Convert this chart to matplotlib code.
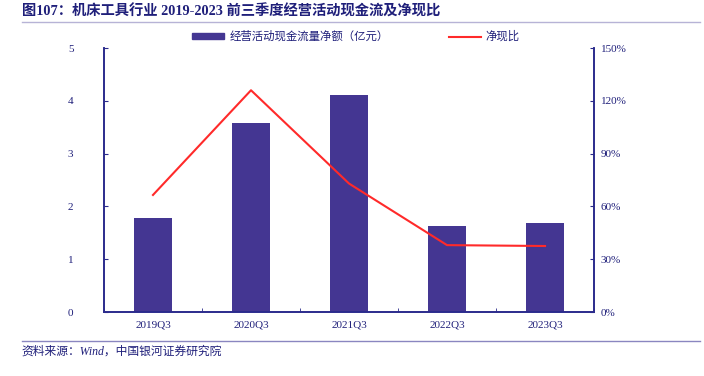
import matplotlib
matplotlib.use("Agg")
import matplotlib.pyplot as plt
from matplotlib.lines import Line2D
from matplotlib.patches import Patch
import numpy as np

plt.rcParams['font.family'] = ['Liberation Serif', 'Noto Sans CJK SC']

# ----- data
quarters = ['2019Q3', '2020Q3', '2021Q3', '2022Q3', '2023Q3']
cash_flow = [1.78, 3.58, 4.11, 1.63, 1.69]      # 亿元
net_ratio = [66.5, 126.0, 73.0, 38.0, 37.5]     # %

bar_color = '#443692'
line_color = '#FF2A2A'
text_color = '#1F1F7A'
axis_color = '#2B2B8C'

fig = plt.figure(figsize=(7.04, 3.76), dpi=100)
ax = fig.add_axes([0.1477, 0.1702, 0.6961, 0.7021])
ax2 = ax.twinx()

x = np.arange(len(quarters))
ax.bar(x, cash_flow, width=0.39, color=bar_color, zorder=2)
ax2.plot(x, net_ratio, color=line_color, lw=1.5, zorder=3)

ax.set_xlim(-0.5, len(quarters) - 0.5)
ax.set_ylim(0, 5)
ax2.set_ylim(0, 150)
ax.set_yticks(range(0, 6))
ax2.set_yticks(range(0, 151, 30))
ax2.set_yticklabels([f'{v}%' for v in range(0, 151, 30)])

# category ticks between bars
ax.set_xticks(x)
ax.set_xticklabels(quarters)
ax.set_xticks(np.arange(-0.5, len(quarters), 1), minor=True)
ax.tick_params(axis='x', which='major', length=0, pad=6, labelsize=8, labelcolor=text_color)
ax.tick_params(axis='x', which='minor', direction='in', length=3, color=axis_color)
ax.tick_params(axis='y', direction='in', length=3, color=axis_color, labelsize=8,
               labelcolor=text_color, pad=22)
ax2.tick_params(axis='y', direction='in', length=3, color=axis_color, labelsize=8,
                labelcolor=text_color, pad=5)
for a in (ax, ax2):
    a.spines['top'].set_visible(False)
    for s in ('left', 'right', 'bottom'):
        a.spines[s].set_color(axis_color)
        a.spines[s].set_linewidth(1.2)

handles = [Patch(color=bar_color), Line2D([], [], color=line_color, lw=1.5)]
labels = ['经营活动现金流量净额（亿元）', '净现比']
fig.legend(handles, labels, loc='center left', bbox_to_anchor=(0.2585, 0.903), ncol=2,
           frameon=False, fontsize=8.2, labelcolor=text_color, columnspacing=5.3,
           handlelength=2.8, handleheight=0.45, handletextpad=0.45)

# title, rules, source
fig.text(0.031, 0.968, '图107：机床工具行业 2019-2023 前三季度经营活动现金流及净现比',
         fontsize=10.3, fontweight='bold', color=text_color, va='center')
fig.add_artist(Line2D([0.031, 0.995], [0.941, 0.941], color='#B7B3D6', lw=1.0))
fig.add_artist(Line2D([0.031, 0.995], [0.093, 0.093], color='#8A86C0', lw=1.0))
fig.text(0.031, 0.065, '资料来源：Wind，中国银河证券研究院', fontsize=8.5,
         style='italic', color=text_color, va='center')

fig.savefig('out.png', dpi=100)
